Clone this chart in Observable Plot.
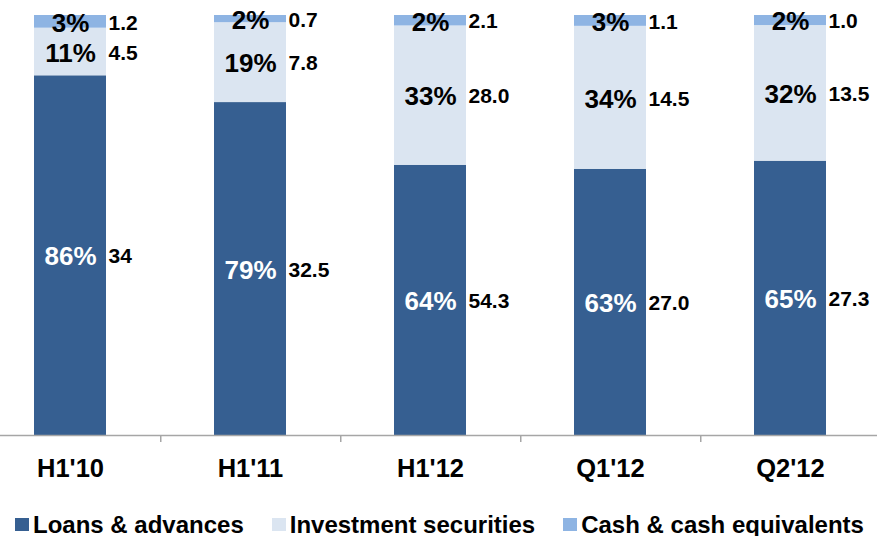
<!DOCTYPE html>
<html>
<head>
<meta charset="utf-8">
<script src="https://cdn.jsdelivr.net/npm/d3@7"></script>
<script src="https://cdn.jsdelivr.net/npm/@observablehq/plot@0.6"></script>
<style>
  body { margin: 0; background: #fff; font-family: "Liberation Sans", Arial, sans-serif; }
  #legend { height: 41px; box-sizing: border-box; padding-top: 17px; padding-left: 15px; display: flex; align-items: center; font-weight: bold; font-size: 24px; line-height: 23px; color: #000; }
  .item { display: flex; align-items: center; margin-right: 28px; white-space: nowrap; }
  .sw { width: 14px; height: 13px; margin-right: 4px; }
</style>
</head>
<body>
<div id="chart"></div>
<div id="legend"></div>
<script>
const categories = ["H1'10", "H1'11", "H1'12", "Q1'12", "Q2'12"];
const seriesNames = ["Loans & advances", "Investment securities", "Cash & cash equivalents"];
const colors = ["#365F91", "#DBE5F1", "#8EB4E3"];

const loans = [34, 32.5, 54.3, 27.0, 27.3];
const investment = [4.5, 7.8, 28.0, 14.5, 13.5];
const cash = [1.2, 0.7, 2.1, 1.1, 1.0];

const loansLabels = ["34", "32.5", "54.3", "27.0", "27.3"];
const investmentLabels = ["4.5", "7.8", "28.0", "14.5", "13.5"];
const cashLabels = ["1.2", "0.7", "2.1", "1.1", "1.0"];

const loansPct = ["86%", "79%", "64%", "63%", "65%"];
const investmentPct = ["11%", "19%", "33%", "34%", "32%"];
const cashPct = ["3%", "2%", "2%", "3%", "2%"];

const valuesBySeries = [loans, investment, cash];
const labelsBySeries = [loansLabels, investmentLabels, cashLabels];
const pctBySeries = [loansPct, investmentPct, cashPct];

const rows = [];
categories.forEach((c, i) => {
  seriesNames.forEach((s, k) => {
    rows.push({cat: c, series: s, value: valuesBySeries[k][i], label: labelsBySeries[k][i], pct: pctBySeries[k][i], white: k === 0});
  });
});

const stackOpts = {x: "cat", y: "value", z: "series", order: null, offset: "normalize"};

const chart = Plot.plot({
  width: 877,
  height: 495,
  marginTop: 15,
  marginBottom: 60,
  marginLeft: 0,
  marginRight: 0,
  style: {fontFamily: "'Liberation Sans', Arial, sans-serif", background: "#fff"},
  x: {domain: categories, range: [-21.25, 881.25], paddingInner: 0.6, paddingOuter: 0.3, axis: null},
  y: {domain: [0, 1], axis: null},
  color: {domain: seriesNames, range: colors},
  marks: [
    Plot.barY(rows, Plot.stackY({...stackOpts, fill: "series"})),
    Plot.text(rows, Plot.stackY({...stackOpts, text: "pct", fill: d => d.white ? "#fff" : "#000", fontSize: 26, fontWeight: "bold", dy: 1.5})),
    Plot.text(rows, Plot.stackY({...stackOpts, text: "label", fill: "#000", fontSize: 21, fontWeight: "bold", textAnchor: "start", dx: 38, dy: 1})),
    Plot.ruleY([0], {stroke: "#A6A6A6", strokeWidth: 1.5}),
    Plot.ruleX(categories.slice(0, 4), {x: d => d, y1: 0, y2: -0.0167, dx: 90.25, stroke: "#A6A6A6", strokeWidth: 1.5}),
    Plot.text(categories, {x: d => d, y: 0, text: d => d, dy: 33.5, fontSize: 25.5, fontWeight: "bold", fill: "#000"})
  ]
});
document.getElementById("chart").appendChild(chart);

const legend = document.getElementById("legend");
seriesNames.forEach((s, k) => {
  const item = document.createElement("div");
  item.className = "item";
  const sw = document.createElement("div");
  sw.className = "sw";
  sw.style.background = colors[k];
  const t = document.createElement("span");
  t.textContent = s;
  item.appendChild(sw);
  item.appendChild(t);
  legend.appendChild(item);
});
</script>
</body>
</html>
